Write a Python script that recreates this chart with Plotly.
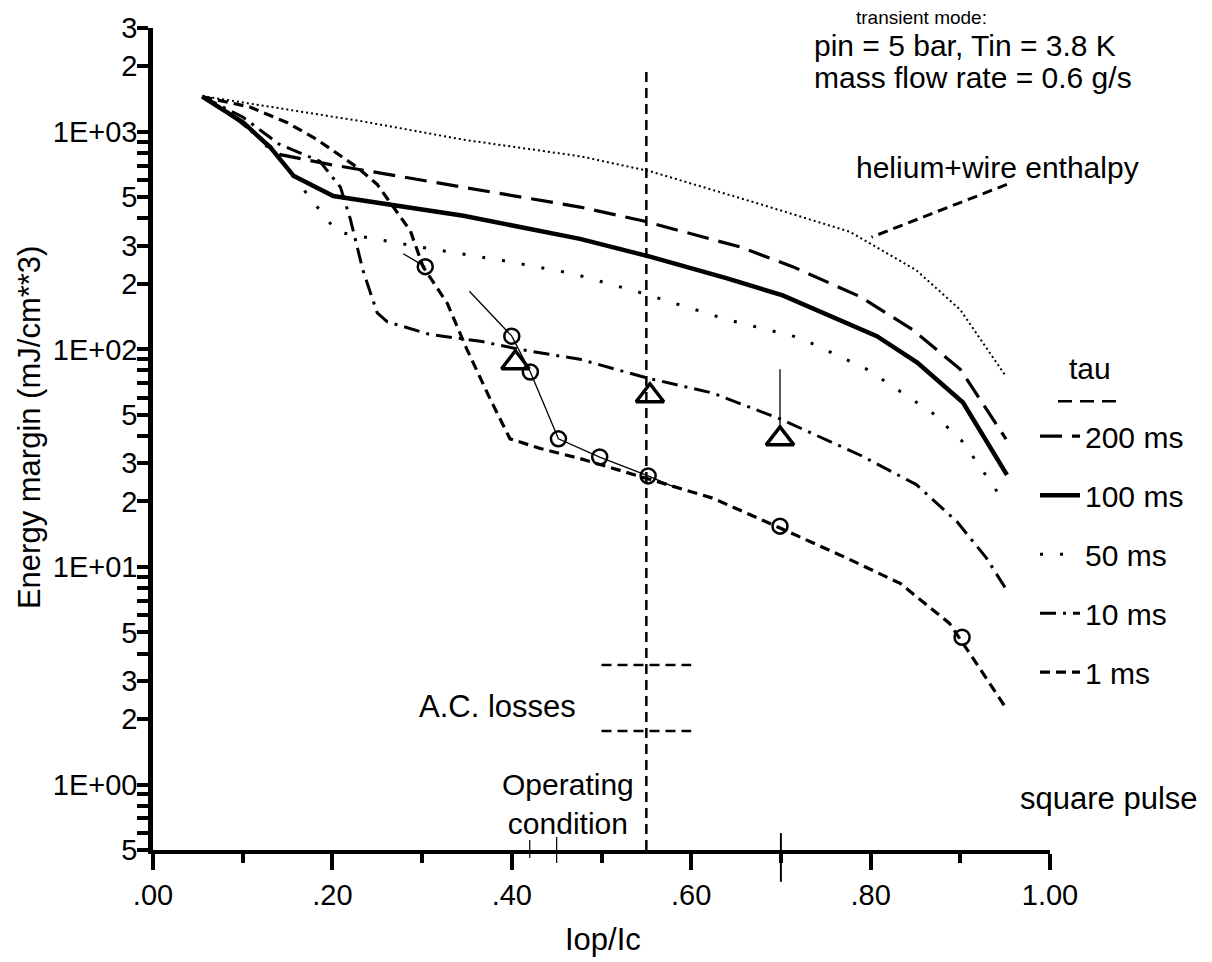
import plotly.graph_objects as go

# ---------------- data ----------------
x_helium = [0.055, 0.235, 0.346, 0.476, 0.554, 0.677, 0.777, 0.851, 0.900, 0.950]
y_helium = [1460, 1114, 920, 772, 659, 465, 347, 231, 152, 76]

x_200 = [0.055, 0.095, 0.142, 0.198, 0.346, 0.476, 0.547, 0.654, 0.713, 0.788, 0.847, 0.900, 0.951]
y_200 = [1450, 1130, 785, 707, 556, 451, 389, 296, 240, 175, 123, 81, 38.7]

x_100 = [0.055, 0.101, 0.131, 0.157, 0.201, 0.346, 0.476, 0.554, 0.640, 0.702, 0.807, 0.852, 0.903, 0.952]
y_100 = [1450, 1099, 846, 626, 507, 411, 322, 267, 212, 177, 115, 87, 57, 26.5]

x_50 = [0.055, 0.100, 0.140, 0.172, 0.205, 0.234, 0.309, 0.390, 0.468, 0.546, 0.640, 0.721, 0.796, 0.869, 0.903, 0.950]
y_50 = [1450, 1100, 760, 516, 347, 329, 290, 256, 223, 181, 137, 113, 81, 51, 37.5, 19.6]

x_10 = [0.055, 0.100, 0.140, 0.186, 0.209, 0.220, 0.234, 0.250, 0.261, 0.309, 0.365, 0.410, 0.476,
        0.550, 0.624, 0.699, 0.788, 0.851, 0.896, 0.929, 0.952]
y_10 = [1450, 1170, 880, 732, 556, 397, 231, 147, 134, 117, 109, 99.8, 90,
        74, 63, 47.9, 32.7, 23.9, 16.2, 11, 7.8]

x_1 = [0.055, 0.086, 0.108, 0.150, 0.183, 0.228, 0.250, 0.268, 0.287, 0.301, 0.328, 0.350, 0.376,
       0.398, 0.432, 0.476, 0.550, 0.624, 0.699, 0.773, 0.833, 0.888, 0.925, 0.952]
y_1 = [1450, 1360, 1300, 1100, 920, 685, 573, 451, 350, 240, 163, 100, 59,
       38.8, 35, 31.5, 25.5, 20.7, 15.1, 11, 8.4, 5.5, 3.26, 2.21]

# measured points
circ_x = [0.3035, 0.400, 0.4207, 0.452, 0.498, 0.552, 0.699, 0.902]
circ_y = [240, 115, 78.7, 38.8, 32, 26.2, 15.4, 4.75]
meas_line_x = [0.3527, 0.400, 0.4207, 0.452, 0.498, 0.552, 0.580]
meas_line_y = [185, 115, 78.7, 38.8, 32, 26.2, 23.4]
meas_line2_x = [0.279, 0.3035]
meas_line2_y = [275, 240]
tri_x = [0.404, 0.554, 0.699]
tri_y = [86.8, 61.2, 38.8]
tri_bar_x = [0.699, 0.699]
tri_bar_y = [81, 45]

# operating condition and A.C. losses
op_x = [0.55, 0.55]
op_y = [0.5, 1900]
ac_x = [0.50, 0.60]
ac_hi = [3.54, 3.54]
ac_lo = [1.76, 1.76]
leader_x = [0.952, 0.801]
leader_y = [573, 328]

# axes ticks
x_ticks = [0, 0.2, 0.4, 0.6, 0.8, 1.0]
x_ticktext = [".00", ".20", ".40", ".60", ".80", "1.00"]
x_minor = [0.1, 0.3, 0.5, 0.7, 0.9]
y_ticks = [0.5, 1, 2, 3, 5, 10, 20, 30, 50, 100, 200, 300, 500, 1000, 2000, 3000]
y_ticktext = ["5", "1E+00", "2", "3", "5", "1E+01", "2", "3", "5", "1E+02", "2", "3", "5", "1E+03", "2", "3"]
y_minor = [0.6, 0.7, 0.8, 0.9, 4, 6, 7, 8, 9, 40, 60, 70, 80, 90, 400, 600, 700, 800, 900]

FONT = "Liberation Sans, Arial, sans-serif"
K = "black"

fig = go.Figure()

def curve(x, y, name, width, dash, legend=True):
    fig.add_trace(go.Scatter(x=x, y=y, mode="lines", name=name, showlegend=legend,
                             legendgroup=name,
                             line=dict(color=K, width=width, dash=dash)))

curve(x_200, y_200, "200 ms", 3.2, "22px,10px")
curve(x_100, y_100, "100 ms", 4.5, "solid")
curve(x_50, y_50, "50 ms", 3, "3px,17px")
curve(x_10, y_10, "10 ms", 3, "16px,7px,3px,7px")
curve(x_1, y_1, "1 ms", 3.2, "10px,6px")
curve(x_helium, y_helium, "helium", 2, "2px,3px", legend=False)

# operating condition line and AC loss marks
curve(op_x, op_y, "op", 2.5, "10px,6px", legend=False)
curve(ac_x, ac_hi, "ac1", 2.5, "10px,6px", legend=False)
curve(ac_x, ac_lo, "ac2", 2.5, "10px,6px", legend=False)
curve(leader_x, leader_y, "leader", 3, "10px,6px", legend=False)

# measurements
curve(meas_line_x, meas_line_y, "m1", 1.3, "solid", legend=False)
curve(meas_line2_x, meas_line2_y, "m2", 1.3, "solid", legend=False)
curve(tri_bar_x, tri_bar_y, "m3", 1.3, "solid", legend=False)
fig.add_trace(go.Scatter(x=circ_x, y=circ_y, mode="markers", showlegend=False,
                         marker=dict(symbol="circle-open", size=15, color=K, line=dict(width=2.5, color=K))))
fig.add_trace(go.Scatter(x=tri_x, y=tri_y, mode="markers", showlegend=False,
                         marker=dict(symbol="triangle-up-open", size=24, color=K, line=dict(width=3.5, color=K))))

W, H = 1212, 962
L, R, T, B = 153, 162, 22, 112
pw, ph = W - L - R, H - T - B

def px(xp):
    return (xp - L) / pw

def py(yp):
    return (H - B - yp) / ph

def txt(s, x, y, size=31, xanchor="center", angle=0):
    fig.add_annotation(text=s, x=px(x), y=py(y), xref="paper", yref="paper", showarrow=False,
                       xanchor=xanchor, yanchor="middle", textangle=angle, borderpad=0,
                       font=dict(size=size, color=K, family=FONT))

txt("transient mode:", 921, 11, size=19)
txt("pin = 5 bar, Tin = 3.8 K", 813, 40, size=30, xanchor="left")
txt("mass flow rate = 0.6 g/s", 813, 72, size=30, xanchor="left")
txt("helium+wire enthalpy", 855, 163, size=30, xanchor="left")
txt("A.C. losses", 497, 705)
txt("Operating<br>condition", 568, 804, size=30)
txt("square pulse", 1109, 798)
txt("Energy margin (mJ/cm**3)", 29, 425, angle=-90)
txt("Iop/Ic", 603, 940)
txt("tau", 1090, 365, size=30)

# underline below legend title
fig.add_shape(type="line", xref="paper", yref="paper", x0=px(1058), x1=px(1123), y0=py(398), y1=py(398),
              line=dict(color=K, width=2.5, dash="14px,8px"))

# scan marks across x axis
for xv, y0p, y1p, w in [(0.70, 833, 882, 2), (0.45, 837, 863, 1.2), (0.42, 840, 858, 1.2)]:
    fig.add_shape(type="line", xref="x", yref="paper", x0=xv, x1=xv, y0=py(y1p), y1=py(y0p),
                  line=dict(color=K, width=w))

fig.update_layout(
    width=W, height=H,
    margin=dict(l=L, r=R, t=T, b=B),
    paper_bgcolor="white", plot_bgcolor="white",
    font=dict(family=FONT, color=K, size=28),
    showlegend=True,
    legend=dict(x=px(1035), y=py(407), xanchor="left", yanchor="top",
                bgcolor="rgba(0,0,0,0)", borderwidth=0,
                font=dict(size=30, family=FONT, color=K),
                tracegroupgap=17, itemwidth=40),
)

fig.update_xaxes(range=[0, 1], showline=True, linewidth=4, linecolor=K, showgrid=False, zeroline=False,
                 ticks="outside", ticklen=16, tickwidth=4, tickcolor=K,
                 tickvals=x_ticks, ticktext=x_ticktext, tickfont=dict(size=29, family=FONT, color=K),
                 minor=dict(tickvals=x_minor, ticks="outside", ticklen=9, tickwidth=4, tickcolor=K, showgrid=False))
fig.update_yaxes(type="log", range=[-0.30103, 3.47712], showline=True, linewidth=4.5, linecolor=K,
                 showgrid=False, zeroline=False,
                 ticks="outside", ticklen=11, tickwidth=3.5, tickcolor=K,
                 tickvals=y_ticks, ticktext=y_ticktext, tickfont=dict(size=29, family=FONT, color=K),
                 ticklabelstandoff=-6,
                 minor=dict(tickvals=y_minor, ticks="outside", ticklen=11, tickwidth=3.5, tickcolor=K, showgrid=False))

fig.write_html("out.html")
